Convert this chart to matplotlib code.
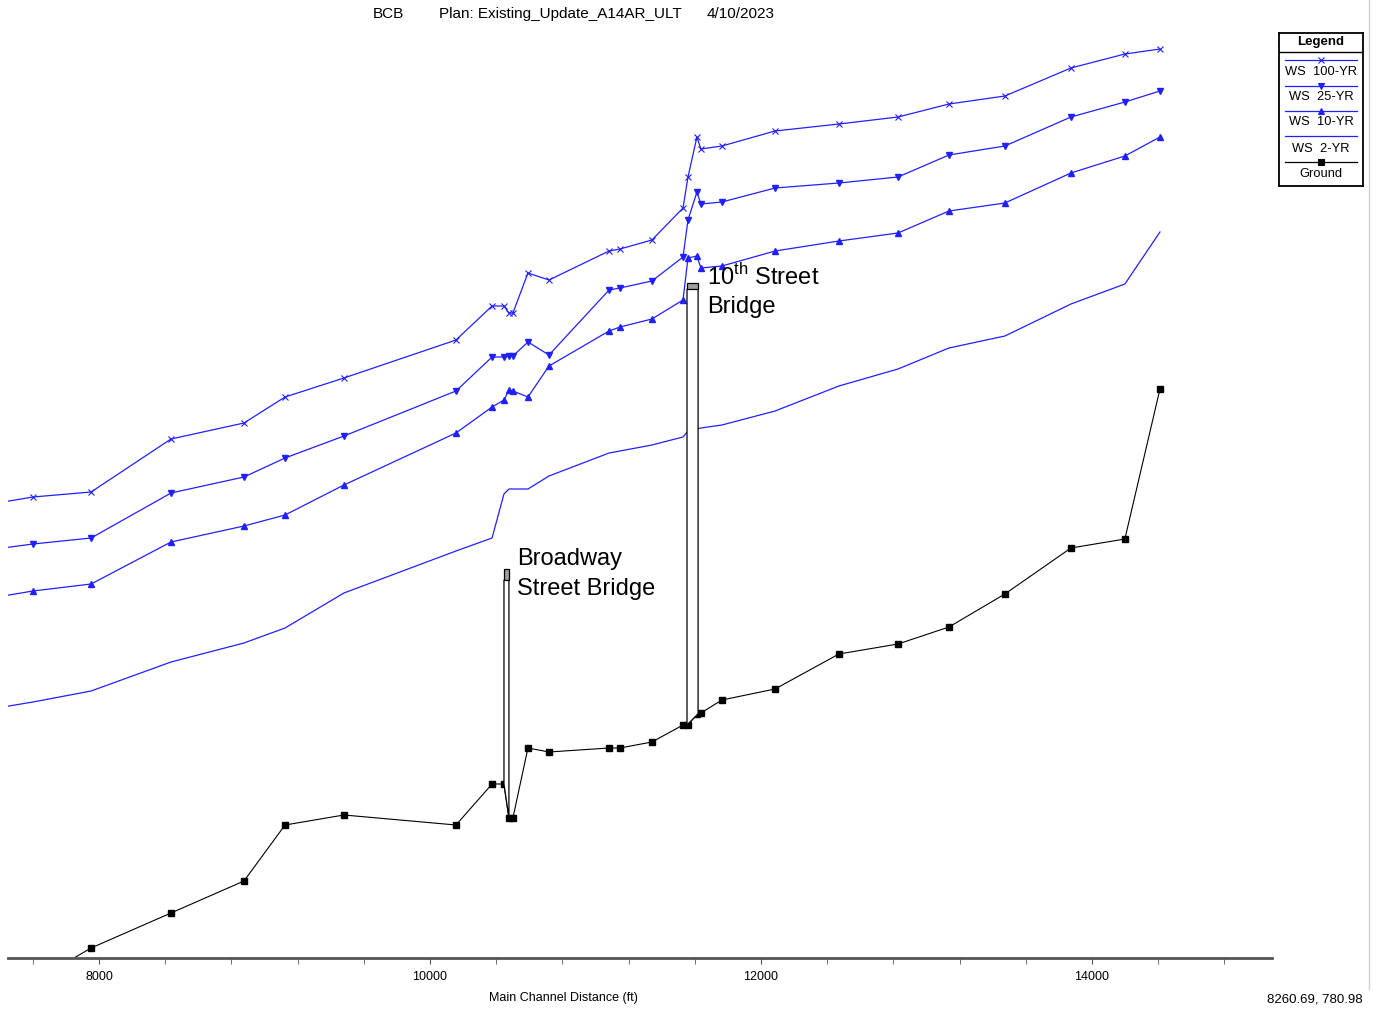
import numpy as np
import matplotlib.pyplot as plt
from matplotlib.patches import Polygon, Rectangle
from matplotlib.lines import Line2D

plt.rcParams['font.family'] = 'Liberation Sans'
plt.rcParams['mathtext.fontset'] = 'custom'
plt.rcParams['mathtext.rm'] = 'Liberation Sans'

# Main channel stations (ft) and profiles (elevation, ft)
station = [7420, 7601, 7952, 8435, 8876, 9124, 9480, 10157, 10375, 10447,
           10477, 10501, 10592, 10719, 11082, 11148, 11341, 11529, 11559, 11613,
           11637, 11764, 12085, 12471, 12828, 13136, 13474, 13873, 14199, 14411]

ground = [757.9, 758.8, 760.5, 762.25, 763.85, 766.65, 767.15, 766.65, 768.7, 768.7,
          767.0, 767.0, 770.5, 770.3, 770.5, 770.5, 770.8, 771.65, 771.65, 772.2,
          772.25, 772.9, 773.45, 775.2, 775.7, 776.55, 778.2, 780.5, 780.95, 788.45]

ws_2yr = [772.55, 772.8, 773.35, 774.8, 775.75, 776.5, 778.25, 780.35, 781.0, 783.2,
          783.45, 783.45, 783.45, 784.1, 785.25, 785.35, 785.65, 786.05, 786.35, 786.45,
          786.5, 786.65, 787.35, 788.6, 789.45, 790.5, 791.1, 792.7, 793.7, 796.3]

ws_10yr = [778.1, 778.35, 778.7, 780.8, 781.6, 782.15, 783.65, 786.25, 787.55, 787.9,
           788.4, 788.35, 788.05, 789.6, 791.35, 791.55, 791.95, 792.9, 795.0, 795.1,
           794.5, 794.6, 795.35, 795.85, 796.25, 797.35, 797.75, 799.25, 800.1, 801.05]

ws_25yr = [780.5, 780.7, 781.0, 783.25, 784.05, 785.0, 786.1, 788.35, 790.05, 790.05,
           790.1, 790.1, 790.8, 790.15, 793.4, 793.5, 793.85, 795.05, 796.9, 798.3,
           797.7, 797.8, 798.5, 798.75, 799.05, 800.15, 800.6, 802.05, 802.8, 803.35]

ws_100yr = [782.8, 783.05, 783.3, 785.95, 786.75, 788.05, 789.0, 790.9, 792.6, 792.6,
            792.25, 792.25, 794.25, 793.9, 795.35, 795.45, 795.9, 797.5, 799.05, 801.05,
            800.45, 800.6, 801.35, 801.7, 802.05, 802.7, 803.1, 804.5, 805.2, 805.45]

# Bridges
bridge_left = [10447, 11553]
bridge_right = [10477, 11620]
bridge_deck = [779.45, 793.75]
bridge_low_chord = [778.9, 793.45]

# Bridge labels
label_text = ['Broadway', 'Street Bridge', r'10$^{\mathrm{th}}$ Street', 'Bridge']
label_x = [10526, 10526, 11674, 11674]
label_y = [779.95, 778.45, 794.05, 792.55]

xticks = [8000, 10000, 12000, 14000]
minor_ticks = [t for t in range(7600, 15001, 400) if t not in xticks]

fig = plt.figure(figsize=(13.76, 10.09), dpi=100)
ax = fig.add_axes([8 / 1376, 1 - 958 / 1009, 1264 / 1376, 928 / 1009])

blue = '#2020ff'
ax.plot(station, ws_100yr, color=blue, lw=0.9, marker='x', ms=5, mew=0.8)
ax.plot(station, ws_25yr, color=blue, lw=0.9, marker='v', ms=4.5)
ax.plot(station, ws_10yr, color=blue, lw=0.9, marker='^', ms=4.5)
ax.plot(station, ws_2yr, color=blue, lw=0.9)
ax.plot(station, ground, color='black', lw=0.8, marker='s', ms=4.5)

for xl, xr, deck, low in zip(bridge_left, bridge_right, bridge_deck, bridge_low_chord):
    gl = np.interp(xl, station, ground)
    gr = np.interp(xr, station, ground)
    ax.add_patch(Polygon([(xl, low), (xr, low), (xr, gr), (xl, gl)], closed=True,
                         facecolor='white', edgecolor='black', lw=0.9, zorder=3))
    ax.add_patch(Rectangle((xl, low), xr - xl, deck - low, facecolor='#a0a0a0',
                           edgecolor='black', lw=0.9, zorder=3))

for t, x, y in zip(label_text, label_x, label_y):
    ax.text(x, y, t, fontsize=17, ha='left', va='center', zorder=4)

ax.set_xlim(7450, 15088)
ax.set_ylim(760, 806.4)
for s in ['top', 'right', 'left']:
    ax.spines[s].set_visible(False)
ax.spines['bottom'].set_color('#555555')
ax.spines['bottom'].set_linewidth(2)
ax.set_yticks([])
ax.set_xticks(xticks)
ax.set_xticklabels([str(t) for t in xticks], fontsize=9)
ax.set_xticks(minor_ticks, minor=True)
ax.tick_params(axis='x', which='both', length=4, color='#555555', pad=5)

# Title and axis text
fig.text(373 / 1376, 1 - 14 / 1009, 'BCB', fontsize=11, va='center', ha='left')
fig.text(439 / 1376, 1 - 14 / 1009, 'Plan: Existing_Update_A14AR_ULT', fontsize=11, va='center', ha='left')
fig.text(707 / 1376, 1 - 14 / 1009, '4/10/2023', fontsize=11, va='center', ha='left')
fig.text(563 / 1376, 1 - 998 / 1009, 'Main Channel Distance (ft)', fontsize=9, va='center', ha='center')
fig.text(1363 / 1376, 1 - 999 / 1009, '8260.69, 780.98', fontsize=9.5, va='center', ha='right')
fig.add_artist(Line2D([1369 / 1376, 1369 / 1376], [0.02, 1], color='#d0d0d0', lw=1))

# Legend box (HEC-RAS style: sample line above label)
lg = fig.add_axes([1279 / 1376, 1 - 186 / 1009, 84 / 1376, 153 / 1009])
lg.set_xlim(0, 84)
lg.set_ylim(153, 0)
lg.set_xticks([])
lg.set_yticks([])
for s in lg.spines.values():
    s.set_linewidth(1.3)
lg.text(42, 9, 'Legend', fontsize=9.5, weight='bold', ha='center', va='center')
lg.plot([0, 84], [19, 19], color='black', lw=1)
legend_items = [('WS  100-YR', blue, 'x'), ('WS  25-YR', blue, 'v'), ('WS  10-YR', blue, '^'),
                ('WS  2-YR', blue, None), ('Ground', 'black', 's')]
line_y = [27, 53, 78, 103, 129]
text_y = [39, 64, 89, 116, 141]
for (name, col, mk), ly, ty in zip(legend_items, line_y, text_y):
    lg.plot([6, 78], [ly, ly], color=col, lw=0.9)
    if mk:
        lg.plot([42], [ly], color=col, marker=mk, ms=4.5, mew=0.8)
    lg.text(42, ty, name, fontsize=9.3, ha='center', va='center')

fig.savefig('out.png', dpi=100)
